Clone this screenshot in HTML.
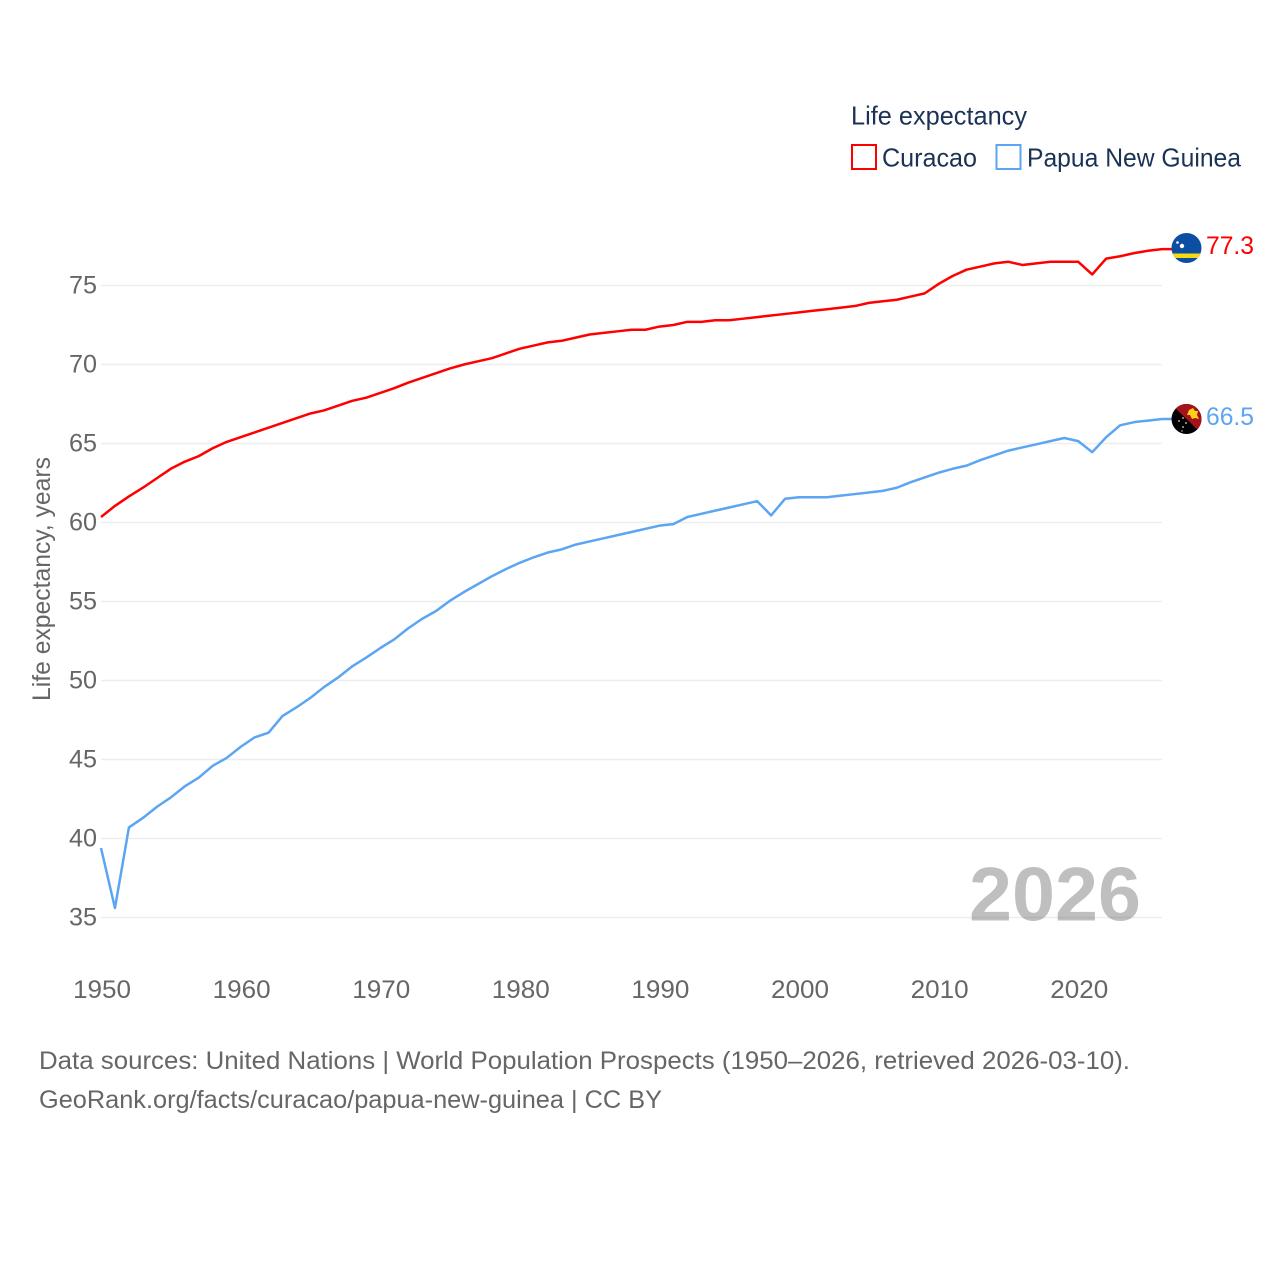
<!DOCTYPE html>
<html lang="en">
<head>
<meta charset="utf-8">
<title>Life expectancy: Curacao and Papua New Guinea</title>
<style>
html,body{margin:0;padding:0;background:#fff}
svg{display:block}
text{font-family:"Liberation Sans",sans-serif}
</style>
</head>
<body>
<svg id="chart" xmlns="http://www.w3.org/2000/svg" width="1280" height="1280" viewBox="0 0 1280 1280">
  <defs>
    <clipPath id="flag-clip-a"><circle cx="1186.500" cy="248" r="15"/></clipPath>
    <clipPath id="flag-clip-b"><circle cx="1186.500" cy="419" r="15"/></clipPath>
  </defs>
  <g id="grid"></g>
  <text x="969" y="920.500" font-size="76" font-weight="700" fill="#000" fill-opacity="0.25" textLength="172" lengthAdjust="spacingAndGlyphs">2026</text>
  <g id="yticks"></g>
  <g id="xticks"></g>
  <text transform="translate(50 701) rotate(-90)" font-size="25" fill="#666" textLength="244" lengthAdjust="spacingAndGlyphs">Life expectancy, years</text>
  <g id="series"></g>

  <g clip-path="url(#flag-clip-a)">
    <rect x="1171" y="233" width="31" height="30" fill="#0b4ea2"/>
    <rect x="1171" y="253.500" width="31" height="4.500" fill="#f9d90f"/>
    <circle cx="1182" cy="246" r="2.200" fill="#fff"/>
    <circle cx="1177.500" cy="242.500" r="1.300" fill="#fff"/>
  </g>
  <g clip-path="url(#flag-clip-b)">
    <rect x="1171" y="404" width="31" height="30" fill="#000"/>
    <polygon points="1171,404 1202,404 1202,434" fill="#a5121c"/>
    <polygon points="1187,415 1189,410 1193,408 1195,411 1198,411 1197,415 1199,419 1195,418 1192,419 1190,415" fill="#fcd116"/>
    <circle cx="1179" cy="421" r="0.900" fill="#ddd"/>
    <circle cx="1183" cy="418" r="0.900" fill="#ddd"/>
    <circle cx="1186" cy="423" r="0.900" fill="#ddd"/>
    <circle cx="1183" cy="427" r="0.900" fill="#ddd"/>
    <circle cx="1182" cy="431" r="0.700" fill="#ddd"/>
  </g>
  <text id="end-a" x="1206" y="254" font-size="25" fill="#ff0000" textLength="48" lengthAdjust="spacingAndGlyphs"></text>
  <text id="end-b" x="1206" y="425" font-size="25" fill="#5ba5f2" textLength="48" lengthAdjust="spacingAndGlyphs"></text>

  <g>
    <text x="851" y="124.500" font-size="26" fill="#1a3355" textLength="176" lengthAdjust="spacingAndGlyphs">Life expectancy</text>
    <rect x="852" y="145" width="24" height="24" fill="#fff" stroke="#ff0000" stroke-width="2"/>
    <text x="882" y="166.500" font-size="26" fill="#1a3355" textLength="95" lengthAdjust="spacingAndGlyphs">Curacao</text>
    <rect x="996.500" y="145" width="24" height="24" fill="#fff" stroke="#5ba5f2" stroke-width="2"/>
    <text x="1027" y="166.500" font-size="26" fill="#1a3355" textLength="214" lengthAdjust="spacingAndGlyphs">Papua New Guinea</text>
  </g>

  <text x="39" y="1069" font-size="25" fill="#666" textLength="1091" lengthAdjust="spacingAndGlyphs">Data sources: United Nations | World Population Prospects (1950–2026, retrieved 2026-03-10).</text>
  <text x="39" y="1108" font-size="25" fill="#666" textLength="623" lengthAdjust="spacingAndGlyphs">GeoRank.org/facts/curacao/papua-new-guinea | CC BY</text>
</svg>
<script>
const firstYear = 1950;
const yTickLabels = [35, 40, 45, 50, 55, 60, 65, 70, 75];
const xTickLabels = [1950, 1960, 1970, 1980, 1990, 2000, 2010, 2020];
const curacaoValues = [
  60.35, 61.05, 61.65, 62.2, 62.8, 63.4, 63.85, 64.2, 64.7, 65.1,
  65.4, 65.7, 66.0, 66.3, 66.6, 66.9, 67.1, 67.4, 67.7, 67.9,
  68.2, 68.5, 68.85, 69.15, 69.45, 69.75, 70.0, 70.2, 70.4, 70.7,
  71.0, 71.2, 71.4, 71.5, 71.7, 71.9, 72.0, 72.1, 72.2, 72.2,
  72.4, 72.5, 72.7, 72.7, 72.8, 72.8, 72.9, 73.0, 73.1, 73.2,
  73.3, 73.4, 73.5, 73.6, 73.7, 73.9, 74.0, 74.1, 74.3, 74.5,
  75.1, 75.6, 76.0, 76.2, 76.4, 76.5, 76.3, 76.4, 76.5, 76.5,
  76.5, 75.7, 76.7, 76.85, 77.05, 77.2, 77.3
];
const papuaValues = [
  39.4, 35.6, 40.7, 41.3, 42.0, 42.6, 43.3, 43.85, 44.6, 45.1,
  45.8, 46.4, 46.7, 47.75, 48.3, 48.9, 49.6, 50.2, 50.9, 51.45,
  52.05, 52.6, 53.3, 53.9, 54.4, 55.05, 55.6, 56.1, 56.6, 57.05,
  57.45, 57.8, 58.1, 58.3, 58.6, 58.8, 59.0, 59.2, 59.4, 59.6,
  59.8, 59.9, 60.35, 60.55, 60.75, 60.95, 61.15, 61.35, 60.45, 61.5,
  61.6, 61.6, 61.6, 61.7, 61.8, 61.9, 62.0, 62.2, 62.55, 62.85,
  63.15, 63.4, 63.6, 63.95, 64.25, 64.55, 64.75, 64.95, 65.15, 65.35,
  65.15, 64.45, 65.4, 66.15, 66.35, 66.45, 66.55
];
const curacaoEndLabel = "77.3";
const papuaEndLabel = "66.5";

const NS = "http://www.w3.org/2000/svg";
function xScale(year) { return 101 + (year - 1950) * (1162 - 101) / 76; }
function yScale(v) { return 917.5 - (v - 35) * (917.5 - 285.5) / 40; }
function make(tag, attrs, parent) {
  const el = document.createElementNS(NS, tag);
  for (const k in attrs) el.setAttribute(k, attrs[k]);
  parent.appendChild(el);
  return el;
}

const gridG = document.getElementById("grid");
const yG = document.getElementById("yticks");
const xG = document.getElementById("xticks");
const seriesG = document.getElementById("series");

yTickLabels.forEach(function (v) {
  const line = make("line", { x1: 101, x2: 1162, y1: yScale(v), y2: yScale(v), stroke: "#eeeeee", "stroke-width": 1.5 }, gridG);
  
  
  const t = make("text", { x: 69, y: yScale(v) + 8, "font-size": 25, fill: "#666", textLength: 28, lengthAdjust: "spacingAndGlyphs" }, yG);
  
  
  t.textContent = String(v);
});

xTickLabels.forEach(function (yr) {
  const t = make("text", { x: xScale(yr) - 28, y: 998, "font-size": 25, fill: "#666", textLength: 58, lengthAdjust: "spacingAndGlyphs" }, xG);
  
  
  t.textContent = String(yr);
});

function drawLine(values, color, lineName) {
  let d = "";
  values.forEach(function (v, i) {
    d += (i ? "L" : "M") + xScale(firstYear + i).toFixed(2) + " " + yScale(v).toFixed(2);
  });
  const last = values[values.length - 1];
  d += "L" + (xScale(firstYear + values.length - 1) + 10).toFixed(2) + " " + yScale(last).toFixed(2);
  const p = make("path", { d: d, fill: "none", stroke: color, "stroke-width": 2.5, "stroke-linejoin": "round" }, seriesG);
  
  
}
drawLine(curacaoValues, "#ff0000", "curacao-line");
drawLine(papuaValues, "#5ba5f2", "papua-new-guinea-line");

document.getElementById("end-a").textContent = curacaoEndLabel;
document.getElementById("end-b").textContent = papuaEndLabel;
</script>
</body>
</html>
